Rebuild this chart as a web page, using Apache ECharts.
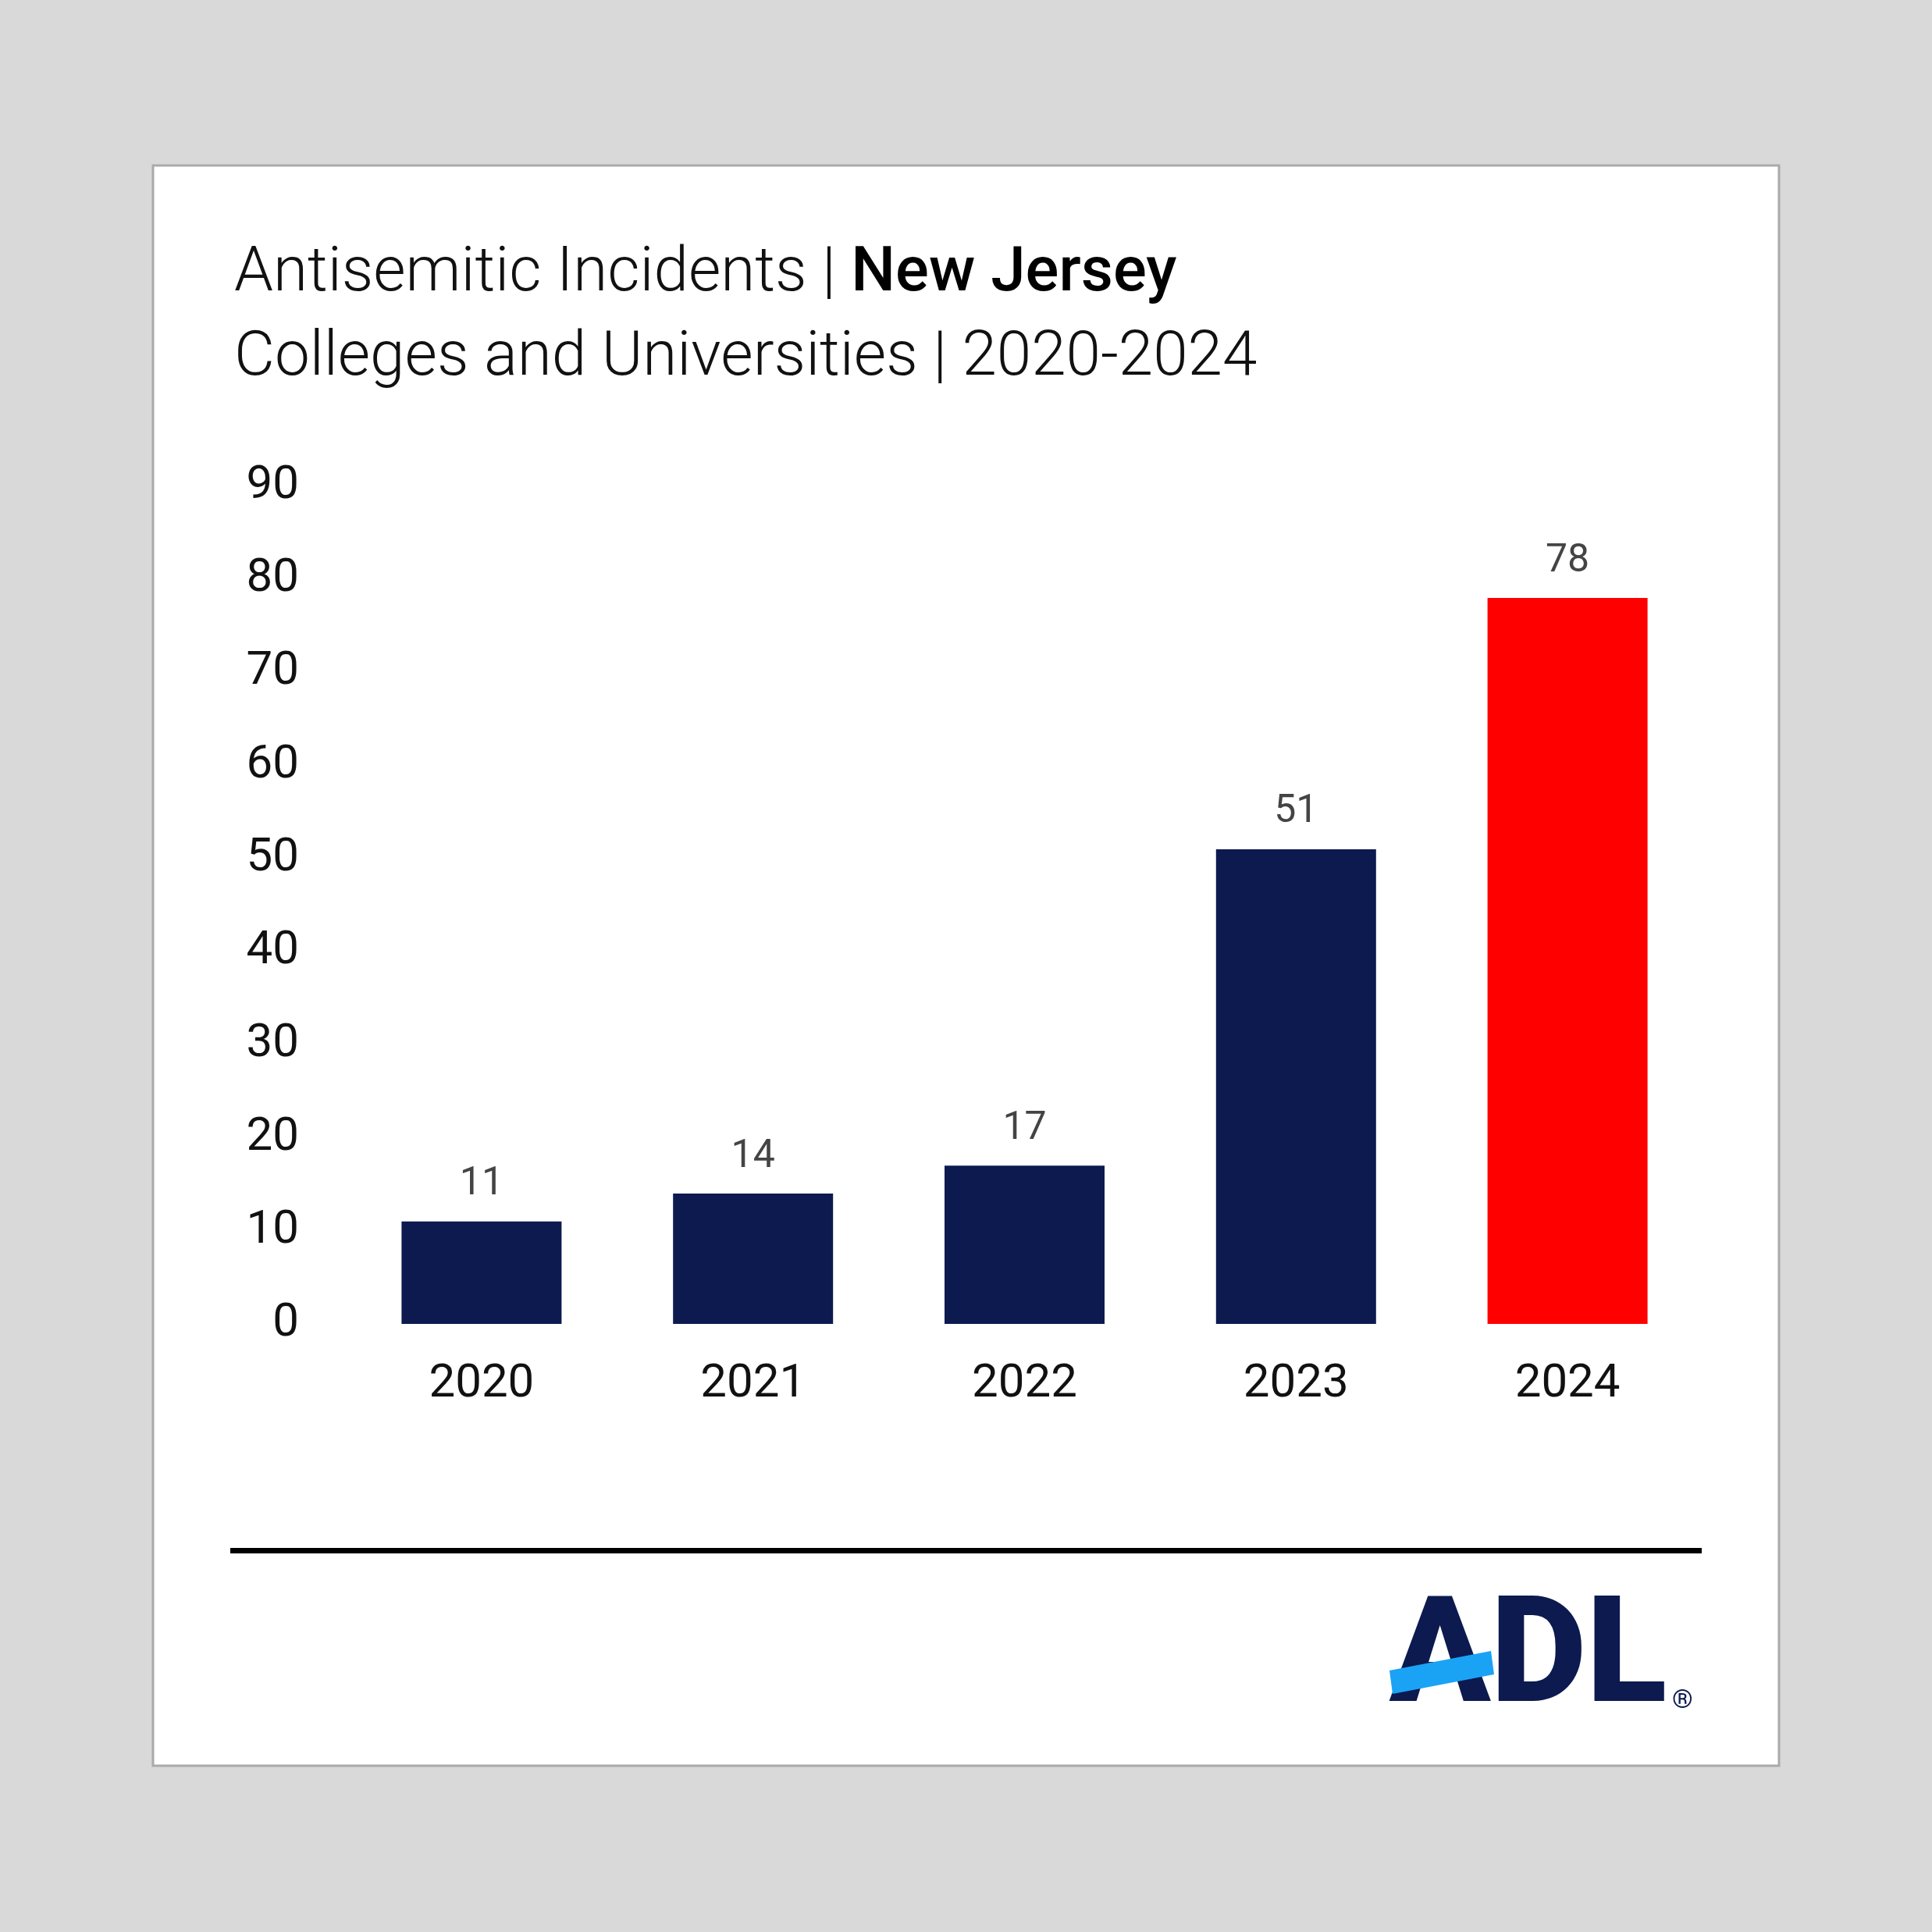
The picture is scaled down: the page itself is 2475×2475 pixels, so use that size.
<!DOCTYPE html>
<html><head><meta charset="utf-8">
<script src="https://cdn.jsdelivr.net/npm/echarts@6/dist/echarts.min.js"></script>
<style>html,body{margin:0;padding:0;background:#d9d9d9}#c{width:2475px;height:2475px}</style>
</head><body><div id="c"></div>
<script>
var years = ['2020', '2021', '2022', '2023', '2024'];
var incidents = [11, 14, 17, 51, 78];
var barColors = ['#0c1a4f', '#0c1a4f', '#0c1a4f', '#0c1a4f', '#ff0000'];

var chart = echarts.init(document.getElementById('c'));
chart.setOption({
  backgroundColor: '#d9d9d9',
  animation: false,
  textStyle: {fontFamily: 'Roboto'},
  graphic: [
    {type: 'rect', z: -10, shape: {x: 196, y: 212, width: 2083, height: 2050},
     style: {fill: '#fff', stroke: '#aaaaaa', lineWidth: 3}},
    {type: 'text', left: 300, top: 312, style: {
      text: '{l|Antisemitic Incidents | }{b|New Jersey}\n{l|Colleges and Universities | 2020-2024}',
      rich: {
        l: {fontFamily: 'Roboto', fontWeight: 300, fontSize: 80, fill: '#111', lineHeight: 108},
        b: {fontFamily: 'Roboto', fontWeight: 500, fontSize: 80, fill: '#000', lineHeight: 108}
      }}},
    {type: 'rect', shape: {x: 295, y: 1983, width: 1885, height: 7}, style: {fill: '#000'}},
    {type: 'text', left: 1780, top: 2036, style: {text: 'ADL', fontFamily: 'Roboto', fontWeight: 900,
      fontSize: 190, fill: '#0c1a4f'}},
    {type: 'polygon', shape: {points: [[1780, 2140], [1910, 2115], [1914, 2145], [1784, 2170]]},
     style: {fill: '#1aa3f5'}},
    {type: 'text', left: 2142, top: 2162, style: {text: '®', fontSize: 34, fill: '#0c1a4f', fontFamily: 'Roboto'}}
  ],
  grid: {left: 443, right: 293, top: 623, bottom: 779},
  xAxis: {type: 'category', data: years,
    axisLine: {show: false}, axisTick: {show: false},
    axisLabel: {fontSize: 60, color: '#111', margin: 48}},
  yAxis: {type: 'value', min: 0, max: 90, interval: 10,
    splitLine: {show: false}, axisLine: {show: false}, axisTick: {show: false},
    axisLabel: {fontSize: 60, color: '#111', margin: 60}},
  series: [{type: 'bar', barWidth: 205,
    data: incidents.map(function (v, i) { return {value: v, itemStyle: {color: barColors[i]}}; }),
    label: {show: true, position: 'top', distance: 22, fontSize: 50, color: '#444'}}]
});
</script></body></html>
